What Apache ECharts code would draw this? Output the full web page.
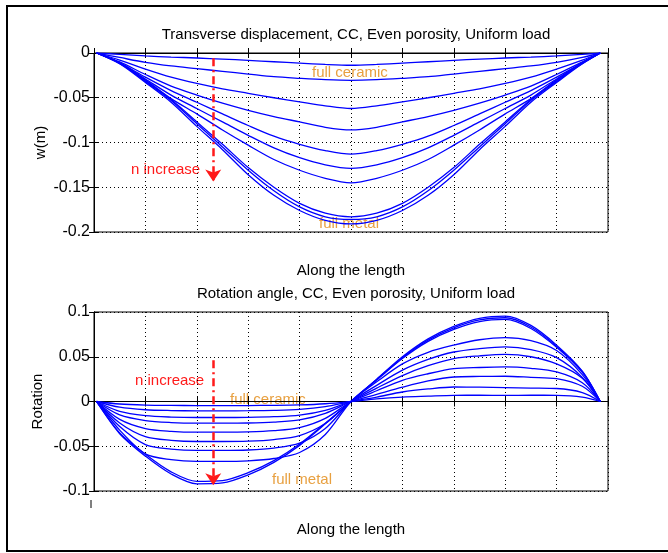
<!DOCTYPE html>
<html>
<head>
<meta charset="utf-8">
<script src="https://cdn.jsdelivr.net/npm/echarts@6/dist/echarts.min.js"></script>
<style>
    body { margin: 0; padding: 0; background: #fff; }
    #chart { width: 668px; height: 553px; }
</style>
</head>
<body>
<div id="chart"></div>
<script>
// positions along the beam (shared by both plots)
const xs = [0.005, 0.05, 0.1, 0.15, 0.2, 0.25, 0.3, 0.35, 0.4, 0.45, 0.5, 0.55, 0.6, 0.65, 0.7, 0.75, 0.8, 0.85, 0.9, 0.95, 0.985];

// transverse displacement w(m), full ceramic -> full metal
const w1 = [0, -0.0015, -0.0033, -0.0045, -0.0056, -0.0068, -0.0082, -0.0098, -0.0113, -0.0128, -0.0137, -0.0128, -0.0113, -0.0098, -0.0082, -0.0068, -0.0056, -0.0045, -0.0033, -0.0015, 0];
const w2 = [0, -0.005, -0.0105, -0.0145, -0.0175, -0.0205, -0.0235, -0.0265, -0.0283, -0.0298, -0.0305, -0.0298, -0.0283, -0.0265, -0.0235, -0.0205, -0.0175, -0.0145, -0.0105, -0.005, 0];
const w3 = [0, -0.008, -0.018, -0.027, -0.034, -0.040, -0.045, -0.050, -0.0545, -0.059, -0.062, -0.059, -0.0545, -0.050, -0.045, -0.040, -0.034, -0.027, -0.018, -0.008, 0];
const w4 = [0, -0.010, -0.024, -0.037, -0.047, -0.056, -0.064, -0.071, -0.077, -0.083, -0.086, -0.083, -0.077, -0.071, -0.064, -0.056, -0.047, -0.037, -0.024, -0.010, 0];
const w5 = [0, -0.011, -0.027, -0.042, -0.055, -0.068, -0.081, -0.093, -0.102, -0.109, -0.113, -0.109, -0.102, -0.093, -0.081, -0.068, -0.055, -0.042, -0.027, -0.011, 0];
const w6 = [0, -0.011, -0.029, -0.047, -0.062, -0.077, -0.092, -0.106, -0.117, -0.125, -0.129, -0.125, -0.117, -0.106, -0.092, -0.077, -0.062, -0.047, -0.029, -0.011, 0];
const w7 = [0, -0.012, -0.030, -0.051, -0.068, -0.086, -0.103, -0.119, -0.131, -0.140, -0.145, -0.140, -0.131, -0.119, -0.103, -0.086, -0.068, -0.051, -0.030, -0.012, 0];
const w8 = [0, -0.011, -0.031, -0.052, -0.077, -0.102, -0.128, -0.150, -0.168, -0.179, -0.183, -0.179, -0.168, -0.150, -0.128, -0.102, -0.077, -0.052, -0.031, -0.011, 0];
const w9 = [0, -0.011, -0.032, -0.053, -0.079, -0.105, -0.131, -0.154, -0.172, -0.183, -0.186, -0.183, -0.172, -0.154, -0.131, -0.105, -0.079, -0.053, -0.032, -0.011, 0];
const w10 = [0, -0.012, -0.033, -0.055, -0.082, -0.108, -0.136, -0.159, -0.176, -0.187, -0.191, -0.187, -0.176, -0.159, -0.136, -0.108, -0.082, -0.055, -0.033, -0.012, 0];

// rotation angle
const r1 = [0, -0.0028, -0.0040, -0.0044, -0.0045, -0.0045, -0.0045, -0.0043, -0.0038, -0.0025, 0, 0.003, 0.005, 0.006, 0.0069, 0.007, 0.0069, 0.007, 0.0069, 0.005, 0];
const r2 = [0, -0.0064, -0.0092, -0.0101, -0.0104, -0.0104, -0.0103, -0.0099, -0.0088, -0.0057, 0, 0.005, 0.0106, 0.014, 0.0162, 0.016, 0.0155, 0.015, 0.0145, 0.010, 0];
const r3 = [0, -0.0111, -0.0158, -0.0174, -0.0179, -0.0179, -0.0177, -0.0170, -0.0152, -0.0098, 0, 0.008, 0.016, 0.023, 0.0274, 0.028, 0.0282, 0.027, 0.0256, 0.017, 0];
const r4 = [0, -0.0150, -0.0213, -0.0235, -0.0242, -0.0242, -0.0240, -0.0230, -0.0206, -0.0133, 0, 0.012, 0.0237, 0.031, 0.0367, 0.038, 0.0386, 0.037, 0.033, 0.021, 0];
const r5 = [0, -0.0200, -0.0302, -0.0333, -0.0343, -0.0343, -0.0340, -0.0326, -0.0292, -0.0189, 0, 0.015, 0.029, 0.040, 0.048, 0.051, 0.0527, 0.050, 0.042, 0.026, 0];
const r6 = [0, -0.0240, -0.0393, -0.0434, -0.0447, -0.0447, -0.0443, -0.0425, -0.0380, -0.0246, 0, 0.018, 0.035, 0.047, 0.0553, 0.059, 0.061, 0.058, 0.049, 0.027, 0];
const r7 = [0, -0.0280, -0.0481, -0.0531, -0.0547, -0.0547, -0.0542, -0.0520, -0.0465, -0.0301, 0, 0.022, 0.042, 0.055, 0.063, 0.069, 0.0714, 0.068, 0.057, 0.030, 0];
const r8 = [0, -0.0320, -0.0585, -0.0650, -0.0670, -0.0670, -0.0663, -0.0637, -0.0570, -0.0369, 0, 0.024, 0.048, 0.0672, 0.0806, 0.0893, 0.0917, 0.0816, 0.0605, 0.0326, 0];
const r9 = [0, -0.035, -0.059, -0.0786, -0.0892, -0.0883, -0.0795, -0.066, -0.0475, -0.0243, 0, 0.0245, 0.049, 0.0686, 0.0823, 0.0911, 0.0936, 0.0833, 0.0617, 0.0333, 0];
const r10 = [0, -0.036, -0.061, -0.081, -0.092, -0.091, -0.082, -0.068, -0.049, -0.025, 0, 0.025, 0.050, 0.070, 0.084, 0.093, 0.0955, 0.085, 0.063, 0.034, 0];

// arrows "n increase": [x, yStart, yEnd]
const dispArrow = [0.232, -0.006, -0.1436];
const rotArrow = [0.232, 0.046, -0.0936];

const font = "Liberation Sans, Arial, sans-serif";
const blue = "#0000ff";
const orange = "#e8a040";
const red = "#ff1a1a";

const chart = echarts.init(document.getElementById("chart"));

function pairs(ys) {
    return xs.map((x, i) => [x, ys[i]]);
}

function curve(ys, idx) {
    return {
        type: "line",
        xAxisIndex: idx,
        yAxisIndex: idx,
        data: pairs(ys),
        symbol: "none",
        smooth: 0.3,
        lineStyle: { color: blue, width: 1.3 },
        silent: true,
        animation: false
    };
}

function arrow(a, idx) {
    return {
        type: "line",
        xAxisIndex: idx,
        yAxisIndex: idx,
        data: [],
        silent: true,
        animation: false,
        markLine: {
            silent: true,
            animation: false,
            symbol: ["none", "arrow"],
            symbolSize: 12,
            label: { show: false },
            itemStyle: { color: red },
            lineStyle: { color: red, width: 2.5, type: [8, 4, 2, 4] },
            data: [[{ coord: [a[0], a[1]] }, { coord: [a[0], a[2]] }]]
        }
    };
}

const tickStyle = { inside: true, length: 5, lineStyle: { color: "#000" } };
const lineStyleBlack = { lineStyle: { color: "#000", width: 1 } };
const dotted = { show: true, lineStyle: { color: "#000", width: 1, type: [1, 3] } };

function xAxes(gi) {
    return [
        {
            gridIndex: gi, type: "value", min: 0, max: 1, interval: 0.1,
            axisLabel: { show: false }, axisTick: tickStyle, axisLine: lineStyleBlack,
            splitLine: dotted,
            name: "Along the length", nameLocation: "middle", nameGap: 31,
            nameTextStyle: { fontFamily: font, fontSize: 15, color: "#000" }
        },
        {
            gridIndex: gi, type: "value", min: 0, max: 1, interval: 0.1, position: "top",
            axisLabel: { show: false }, axisTick: tickStyle, axisLine: lineStyleBlack,
            splitLine: { show: false }
        }
    ];
}

function yAxes(gi, min, max, name, gap) {
    return [
        {
            gridIndex: gi, type: "value", min: min, max: max, interval: 0.05,
            axisLabel: { fontFamily: font, fontSize: 16, color: "#000", margin: 4 },
            axisTick: tickStyle, axisLine: lineStyleBlack, splitLine: dotted,
            name: name, nameLocation: "middle", nameGap: gap, nameMoveOverlap: false,
            nameTextStyle: { fontFamily: font, fontSize: 15, color: "#000" }
        },
        {
            gridIndex: gi, type: "value", min: min, max: max, interval: 0.05, position: "right",
            axisLabel: { show: false }, axisTick: tickStyle, axisLine: lineStyleBlack,
            splitLine: { show: false }
        }
    ];
}

const xa = xAxes(0).concat(xAxes(1));
const ya = yAxes(0, -0.2, 0, "w(m)", 46).concat(yAxes(1, -0.1, 0.1, "Rotation", 49));

const series = [];
[w1, w2, w3, w4, w5, w6, w7, w8, w9, w10].forEach(ys => series.push(curve(ys, 0)));
[r1, r2, r3, r4, r5, r6, r7, r8, r9, r10].forEach(ys => series.push(curve(ys, 2)));
series.push(arrow(dispArrow, 0));
series.push(arrow(rotArrow, 2));

function txt(x, y, s, color, size) {
    return {
        type: "text", left: x, top: y, silent: true,
        style: { text: s, fill: color, font: size + "px " + font, textVerticalAlign: "middle" }
    };
}

const option = {
    animation: false,
    title: [
        {
            text: "Transverse displacement, CC, Even porosity, Uniform load",
            left: 351, top: 22, textAlign: "center",
            textStyle: { fontFamily: font, fontSize: 15, fontWeight: "normal", color: "#000" }
        },
        {
            text: "Rotation angle, CC, Even porosity, Uniform load",
            left: 351, top: 281, textAlign: "center",
            textStyle: { fontFamily: font, fontSize: 15, fontWeight: "normal", color: "#000" }
        }
    ],
    grid: [
        { left: 94, top: 53, width: 514, height: 179, show: true, borderColor: "#000", borderWidth: 1 },
        { left: 94, top: 312, width: 514, height: 179, show: true, borderColor: "#000", borderWidth: 1 }
    ],
    xAxis: xa.map((a, i) => Object.assign(a, { gridIndex: i < 2 ? 0 : 1 })),
    yAxis: ya.map((a, i) => Object.assign(a, { gridIndex: i < 2 ? 0 : 1 })),
    series: series,
    graphic: [
        {
            type: "rect", silent: true,
            shape: { x: 7, y: 6, width: 680, height: 545 },
            style: { fill: "none", stroke: "#000", lineWidth: 2 }
        },
        {
            type: "line", silent: true,
            shape: { x1: 91, y1: 500, x2: 91, y2: 508 },
            style: { stroke: "#000", lineWidth: 1 }
        },
        txt(312, 65, "full ceramic", orange, 15),
        txt(319, 216, "full metal", orange, 15),
        txt(131, 162, "n increase", red, 15),
        txt(230, 392, "full ceramic", orange, 15),
        txt(272, 472, "full metal", orange, 15),
        txt(135, 373, "n increase", red, 15)
    ]
};

chart.setOption(option);
</script>
</body>
</html>
